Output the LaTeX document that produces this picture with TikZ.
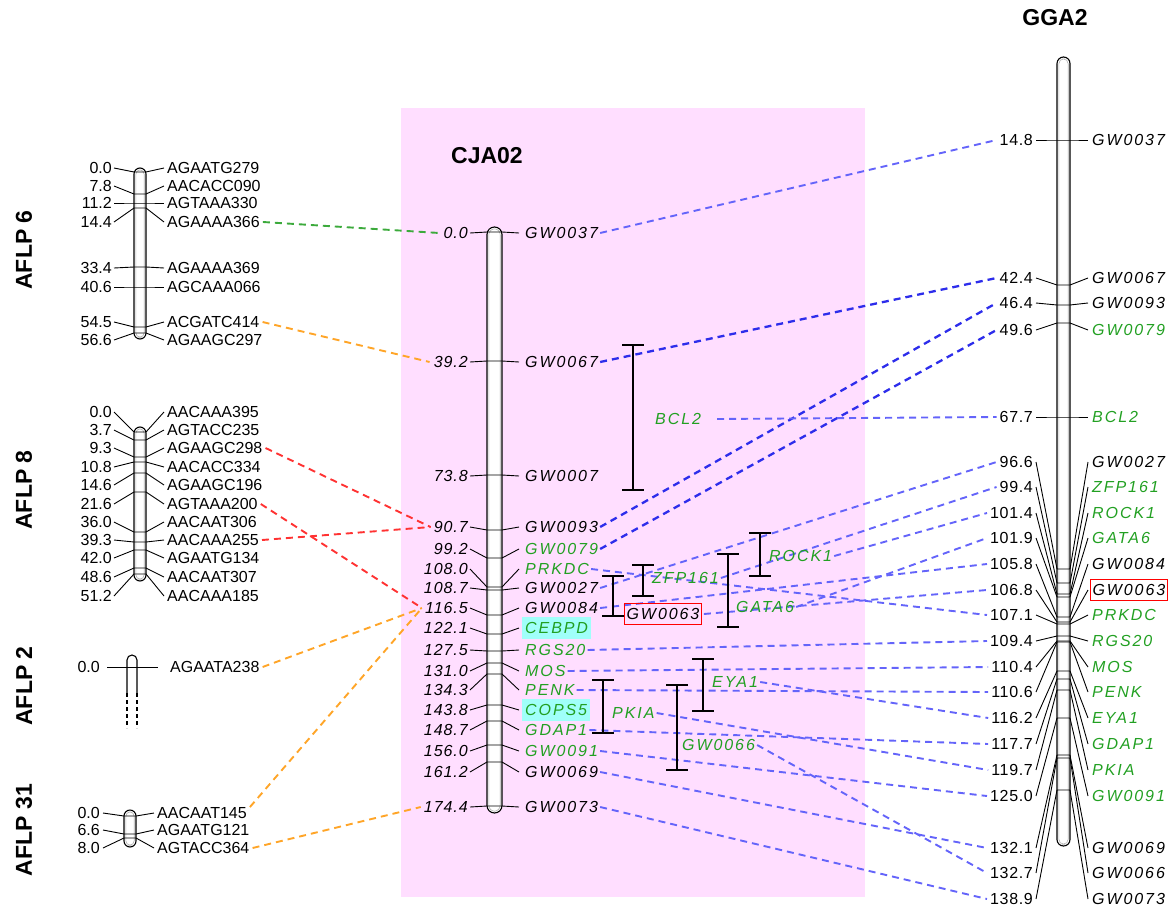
\documentclass[tikz,border=0pt]{standalone}
\usepackage{fontspec}
\setmainfont{Liberation Sans}
\definecolor{pinkbg}{RGB}{255,222,255}
\definecolor{gtxt}{RGB}{34,160,34}
\definecolor{hlcyan}{RGB}{160,255,250}
\definecolor{dblue}{RGB}{45,45,235}
\definecolor{lblue}{RGB}{100,100,250}
\definecolor{lgreen}{RGB}{60,170,60}
\definecolor{lorange}{RGB}{255,165,40}
\definecolor{lred}{RGB}{255,50,50}
\pgfdeclarelayer{background}
\pgfdeclarelayer{conn}
\pgfsetlayers{background,conn,main}
\newcommand\fs{\fontsize{16}{19}\selectfont}
\newcommand\chromo[6]{%
  \draw[line width=1.1pt, fill=white, rounded corners=#5pt] (#1,#3) rectangle (#2,#4);
  \draw[gray!60, line width=0.6pt, rounded corners=#6pt] (#1+1.8,#3+1.8) rectangle (#2-1.8,#4-1.8);
}
\tikzset{
  lbl/.style={inner sep=0pt, text height=11.5pt, text depth=0pt, font=\fs},
  unum/.style={lbl, anchor=east},
  gnum/.style={lbl, anchor=east, font=\fs\addfontfeature{LetterSpace=4}},
  inum/.style={lbl, anchor=east, font=\fs\itshape\addfontfeature{LetterSpace=6}},
  ulab/.style={lbl, anchor=west},
  ilab/.style={lbl, anchor=west, font=\fs\itshape\addfontfeature{LetterSpace=12}},
  kb/.style={text=black},
  gr/.style={text=gtxt},
  hl/.style={text=gtxt, fill=hlcyan, inner xsep=3pt, inner ysep=5.25pt, xshift=-3pt},
  rbx/.style={text=black, draw=red, line width=1pt, inner xsep=2pt, inner ysep=5pt, xshift=-2pt},
  tk/.style={line width=0.9pt, line join=round},
  ivl/.style={line width=1.4pt},
  ttl/.style={inner sep=0pt, font=\fontsize{23}{26}\selectfont\bfseries},
  cn/.style={line width=1.9pt, dash pattern=on 7pt off 5pt},
  cgreen/.style={cn, draw=lgreen},
  corange/.style={cn, draw=lorange},
  cred/.style={cn, draw=lred},
  cdb/.style={cn, draw=dblue, line width=2.3pt},
  clb/.style={cn, draw=lblue},
}
\begin{document}
\begin{tikzpicture}[x=1pt,y=-1pt]
\useasboundingbox (0,0) rectangle (1176,911);
\begin{pgfonlayer}{background}
\fill[pinkbg] (401,108) rectangle (865,897);
\end{pgfonlayer}

% titles
\node[ttl] (tCJA) at (487,156) {CJA02};
\node[ttl] (tGGA) at (1055,18) {GGA2};
\node[ttl,rotate=90] (tA6) at (24,250) {AFLP 6};
\node[ttl,rotate=90] (tA8) at (24,490) {AFLP 8};
\node[ttl,rotate=90] (tA2) at (24,686) {AFLP 2};
\node[ttl,rotate=90] (tA31) at (24,830) {AFLP 31};

% AFLP 6
\chromo{134}{146}{168}{339}{6}{4.5}
\foreach \ly/\ty/\n/\m in {168/172/0.0/AGAATG279,186/194/7.8/AACACC090,203/203/11.2/AGTAAA330,222/208/14.4/AGAAAA366,268/267/33.4/AGAAAA369,287/287/40.6/AGCAAA066,322/327/54.5/ACGATC414,340/333/56.6/AGAAGC297}{
  \node[unum] (n\m) at (112,\ly) {\n};
  \node[ulab] (\m) at (167,\ly) {\m};
  \draw[tk] ([xshift=2pt]n\m.east) -- (134,\ty) -- (146,\ty) -- ([xshift=-3pt]\m.west);
}

% AFLP 8
\chromo{134}{146}{427}{581}{6}{4.5}
\foreach \ly/\ty/\n/\m in {412/432/0.0/AACAAA395,430/440/3.7/AGTACC235,448/457/9.3/AGAAGC298,467/462/10.8/AACACC334,485/473/14.6/AGAAGC196,504/492/21.6/AGTAAA200,522/532/36.0/AACAAT306,540/542/39.3/AACAAA255,558/550/42.0/AGAATG134,577/568/48.6/AACAAT307,596/574/51.2/AACAAA185}{
  \node[unum] (n\m) at (112,\ly) {\n};
  \node[ulab] (\m) at (167,\ly) {\m};
  \draw[tk] ([xshift=2pt]n\m.east) -- (134,\ty) -- (146,\ty) -- ([xshift=-3pt]\m.west);
}

% AFLP 2
\draw[line width=1.1pt, rounded corners=5pt] (127,693) -- (127,655) -- (137,655) -- (137,693);
\draw[line width=1.1pt, dash pattern=on 4pt off 3pt] (127,693) -- (127,728) (137,693) -- (137,728);
\node[unum] (nAGAATA238) at (100,667) {0.0};
\node[ulab] (AGAATA238) at (170,667) {AGAATA238};
\draw[tk] ([xshift=7pt]nAGAATA238.east) -- ([xshift=-12pt]AGAATA238.west);

% AFLP 31
\chromo{124}{136}{810}{847}{6}{4.5}
\foreach \ly/\ty/\n/\m in {813/816/0.0/AACAAT145,830/834/6.6/AGAATG121,848/838/8.0/AGTACC364}{
  \node[unum] (n\m) at (100,\ly) {\n};
  \node[ulab] (\m) at (157,\ly) {\m};
  \draw[tk] ([xshift=3pt]n\m.east) -- (124,\ty) -- (136,\ty) -- ([xshift=-3pt]\m.west);
}

% CJA02
\chromo{487}{502}{227}{813}{7.5}{6}
\foreach \ly/\ty/\n/\m/\s in {233/232/0.0/GW0037/kb,362/361/39.2/GW0067/kb,476/475/73.8/GW0007/kb,527/530/90.7/GW0093/kb,549/558/99.2/GW0079/gr,569/587/108.0/PRKDC/gr,588/590/108.7/GW0027/kb,608/615/116.5/GW0084/kb,628/634/122.1/CEBPD/hl,650/651/127.5/RGS20/gr,671/663/131.0/MOS/gr,690/674/134.3/PENK/gr,710/705/143.8/COPS5/hl,730/721/148.7/GDAP1/gr,751/745/156.0/GW0091/gr,772/762/161.2/GW0069/kb,807/806/174.4/GW0073/kb}{
  \node[inum] (Cn\m) at (468,\ly) {\n};
  \node[ilab,\s] (C\m) at (525,\ly) {\m};
  \draw[tk] ([xshift=2pt]Cn\m.east) -- (487,\ty) -- (502,\ty) -- (519,\ly);
}

% intervals
\foreach \x/\a/\b in {633/345/490,613/576/616,643/565/596,728/554/627,760/533/576,703/659/711,603/680/733,677/685/770}{
  \draw[ivl] (\x-11,\a) -- (\x+11,\a) (\x,\a) -- (\x,\b) (\x-11,\b) -- (\x+11,\b);
}
\node[ilab,gr] (IBCL2) at (655,419) {BCL2};
\node[ilab,gr] (IZFP161) at (652,578) {ZFP161};
\node[ilab,gr] (IGATA6) at (736,607) {GATA6};
\node[ilab,gr] (IROCK1) at (769,556) {ROCK1};
\node[ilab,gr] (IEYA1) at (712,682) {EYA1};
\node[ilab,gr] (IPKIA) at (612,713) {PKIA};
\node[ilab,gr] (IGW0066) at (682,745) {GW0066};
\node[ilab,kb,draw=red,line width=1pt,inner xsep=2pt,inner ysep=5pt,anchor=center] (CGW0063) at (663,614) {GW0063};

% GGA2
\chromo{1057}{1070}{57}{846}{6.5}{5}
\foreach \ly/\ty/\n/\m/\s in {140/140/14.8/GW0037/kb,278/285/42.4/GW0067/kb,303/305/46.4/GW0093/kb,330/323/49.6/GW0079/gr,417/417/67.7/BCL2/gr,462/569/96.6/GW0027/kb,487/583/99.4/ZFP161/gr,513/594/101.4/ROCK1/gr,538/597/101.9/GATA6/gr,564/617/105.8/GW0084/kb,590/622/106.8/GW0063/rbx,615/624/107.1/PRKDC/gr,641/636/109.4/RGS20/gr,667/641/110.4/MOS/gr,692/642/110.6/PENK/gr,718/671/116.2/EYA1/gr,744/679/117.7/GDAP1/gr,770/690/119.7/PKIA/gr,796/718/125.0/GW0091/gr,848/755/132.1/GW0069/kb,873/758/132.7/GW0066/kb,899/790/138.9/GW0073/kb}{
  \node[gnum] (Gn\m) at (1033,\ly) {\n};
  \node[ilab,\s] (G\m) at (1092,\ly) {\m};
  \draw[tk] ([xshift=3pt]Gn\m.east) -- (1057,\ty) -- (1070,\ty) -- (1088,\ly);
}

% connectors
\begin{pgfonlayer}{conn}
\draw[cgreen] ([xshift=3pt]AGAAAA366.east) -- ([xshift=-4pt]CnGW0037.west);
\draw[corange] ([xshift=3pt]ACGATC414.east) -- ([xshift=-4pt]CnGW0067.west);
\draw[cred] ([xshift=3pt]AGAAGC298.east) -- ([xshift=-3pt]CnGW0093.west);
\draw[cred] ([xshift=3pt]AACAAA255.east) -- ([xshift=-3pt]CnGW0093.west);
\draw[cred] ([xshift=3pt]AGTAAA200.east) -- ([xshift=-3pt]CnGW0084.west);
\draw[corange] ([xshift=3pt]AGAATA238.east) -- ([xshift=-3pt]CnGW0084.west);
\draw[corange] ([xshift=3pt]AACAAT145.north east) -- ([xshift=-3pt]CnGW0084.west);
\draw[corange] ([xshift=3pt]AGTACC364.east) -- ([xshift=-3pt]CnGW0073.west);
\foreach \a/\b in {CGW0067/GW0067,CGW0093/GW0093,CGW0079/GW0079}{
  \draw[cdb] ([xshift=2pt]\a.east) -- ([xshift=-3pt]Gn\b.west);
}
\foreach \a/\b in {CGW0037/GW0037,CGW0027/GW0027,IZFP161/ZFP161,IROCK1/ROCK1,IGATA6/GATA6,CGW0084/GW0084,CGW0063/GW0063,CPRKDC/PRKDC,CRGS20/RGS20,CMOS/MOS,CPENK/PENK,IEYA1/EYA1,CGDAP1/GDAP1,IPKIA/PKIA,CGW0091/GW0091,CGW0069/GW0069,IGW0066/GW0066,CGW0073/GW0073}{
  \draw[clb] ([xshift=2pt]\a.east) -- ([xshift=-3pt]Gn\b.west);
}
\draw[clb] ([xshift=16pt]IBCL2.east) -- ([xshift=-3pt]GnBCL2.west);
\end{pgfonlayer}
\end{tikzpicture}
\end{document}
